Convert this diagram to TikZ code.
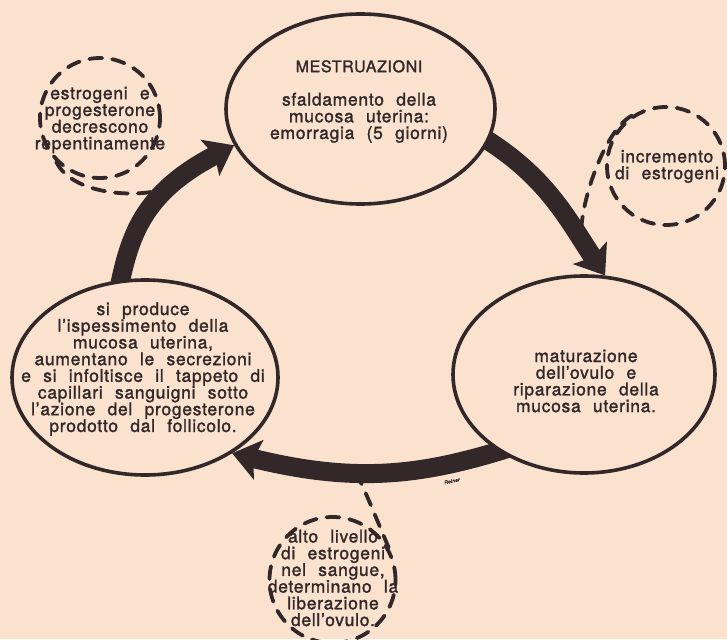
\documentclass[tikz,border=0pt]{standalone}
\usepackage{fontspec}
\setmainfont{TeX Gyre Heros}[LetterSpace=4,WordSpace=2.2,FakeBold=1.5]
\usetikzlibrary{arrows.meta,calc,positioning,shapes.geometric,backgrounds}
\definecolor{paper}{RGB}{250,226,206}
\definecolor{ink}{RGB}{50,40,42}

\begin{document}
\begin{tikzpicture}[x=1pt,y=-1pt,line join=round,
  phase/.style={ellipse,draw=ink,line width=3.6pt,fill=paper,inner sep=0pt},
  hint/.style={circle,draw=ink,line width=3.8pt,dash pattern=on 13pt off 10pt,line cap=round,inner sep=0pt},
  tail/.style={ink,line width=3.8pt,dash pattern=on 13pt off 10pt,line cap=round},
  txt/.style={text=ink,align=center,inner sep=0pt,font=\fontsize{17.5}{16.7}\selectfont},
  bigarrow/.style={ink,line width=19pt,shorten <=-12pt,-{Stealth[length=27pt,width=40pt,inset=5pt]}}]
  \useasboundingbox (0,0) rectangle (727,639);
  % fasi del ciclo
  \node[phase,minimum width=269pt,minimum height=190pt] (mestr) at (360.5,109) {};
  \node[phase,minimum width=262pt,minimum height=197pt] (matur) at (584,374.5) {};
  \node[phase,minimum width=266pt,minimum height=195pt] (ispes) at (145,377.5) {};
  \node[txt] (mestrtxt) at (359,101.5) {{\fontsize{16}{16.7}\selectfont MESTRUAZIONI}\\[16.7pt] sfaldamento della\\ mucosa uterina:\\ emorragia (5 giorni)};
  \node[txt] (maturtxt) at (586,381) {maturazione\\ dell'ovulo e\\ riparazione della\\ mucosa uterina.};
  \node[txt] (ispestxt) at (143,369) {si produce\\ l'ispessimento della\\ mucosa uterina,\\ aumentano le secrezioni\\ e si infoltisce il tappeto di\\ capillari sanguigni sotto\\ l'azione del progesterone\\ prodotto dal follicolo.};
  % cause ormonali
  \node[hint,minimum size=120pt] (calo) at (100,118) {};
  \node[hint,minimum size=118pt] (incr) at (666,166) {};
  \node[hint,minimum size=126pt] (alto) at (332.5,580) {};
  \node[txt] (calotxt) at (100,120) {estrogeni e\\ progesterone\\ decrescono\\ repentinamente};
  \node[txt] (incrtxt) at (667,166.5) {incremento\\ di estrogeni};
  \node[txt] (altotxt) at (333,578) {alto livello\\ di estrogeni\\ nel sangue,\\ determinano la\\ liberazione\\ dell'ovulo.};
  \node[text=ink,font=\fontsize{5}{5}\selectfont\itshape,rotate=12,inner sep=0pt] (firma) at (452,481) {Reiner};
  \begin{scope}[on background layer]
    \fill[paper] (0,0) rectangle (727,639);
    \draw[bigarrow] (ispes.104) .. controls +(9,-44) and +(-92,48) .. (mestr.196) coordinate[pos=0.7] (p1);
    \draw[bigarrow] (mestr.346) .. controls +(57,34) and +(-38,-57) .. (matur.78) coordinate[pos=0.78] (p2);
    \draw[bigarrow] (matur.222) .. controls +(-79,25) and +(122,30) .. (ispes.319) coordinate[pos=0.6] (p3);
    \draw[tail] (calo.225) .. controls +(15,32) and +(-35,13) .. (p1);
    \draw[tail] (incr.124) .. controls +(-30,16) and +(-5,-25) .. (p2);
    \draw[tail] (alto.30) .. controls +(-8,-18) and +(8,14) .. (p3);
  \end{scope}
\end{tikzpicture}
\end{document}
